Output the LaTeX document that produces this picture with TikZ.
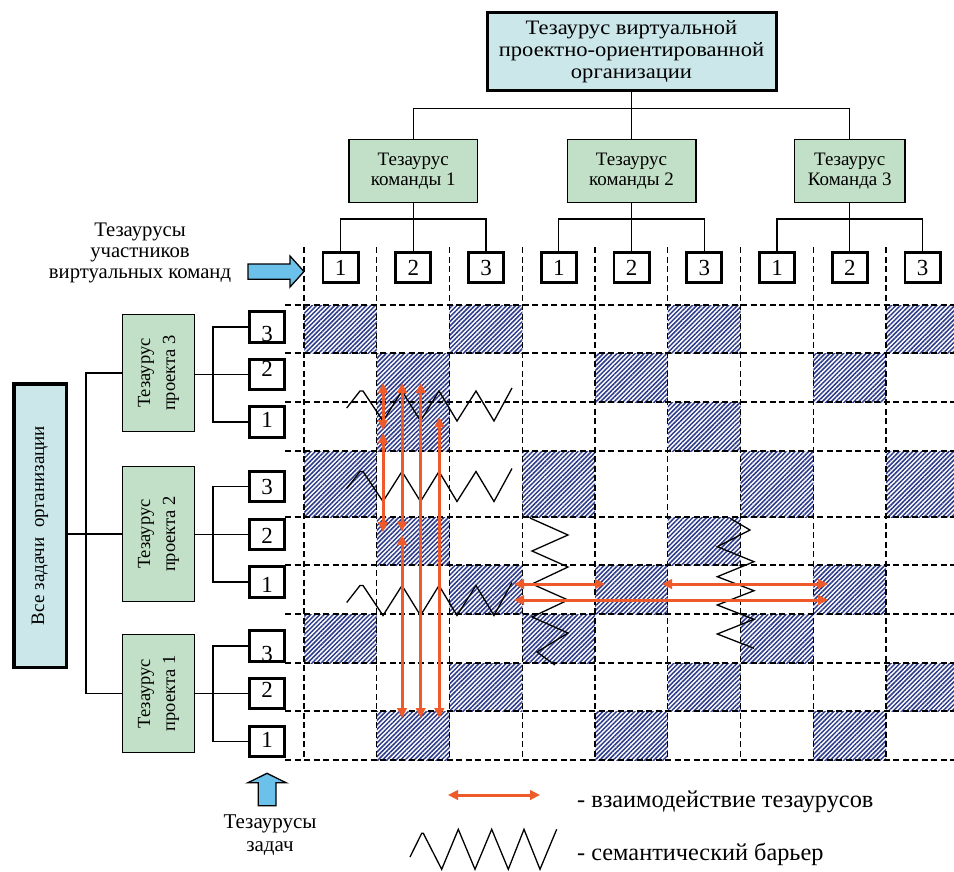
\documentclass[tikz,border=0pt]{standalone}
\usepackage{fontspec}
\setmainfont{Liberation Serif}
\newfontfamily\widefont{Liberation Serif}[FakeStretch=1.1]
\usetikzlibrary{arrows.meta,patterns.meta}
\definecolor{cyanfill}{HTML}{CBE7EA}
\definecolor{greenfill}{HTML}{C2E0C7}
\definecolor{bluearrow}{HTML}{6CC1EB}
\definecolor{hatchblue}{HTML}{2C3A8A}
\definecolor{redarr}{HTML}{EF5A2B}
\newcommand{\shiftdigit}[2]{\raisebox{#1}[\height][\depth]{#2}}
\begin{document}
\begin{tikzpicture}[x=1pt,y=-1pt,
  conn/.style={line width=1.2pt},
  topbox/.style={draw,line width=3pt,fill=cyanfill,inner sep=0pt,align=center,
    minimum width=289pt,minimum height=78pt,font=\widefont\fontsize{20.5}{21.7}\selectfont},
  teambox/.style={draw,line width=1.3pt,fill=greenfill,inner sep=0pt,align=center,
    minimum height=62.7pt,font=\fontsize{19}{19.5}\selectfont},
  membox/.style={draw,line width=2.8pt,fill=white,inner sep=0pt,
    minimum width=35.2pt,minimum height=30.4pt,font=\fontsize{23}{23}\selectfont},
  projbox/.style={draw,line width=1.3pt,fill=greenfill,inner sep=0pt,align=center,
    rotate=90,minimum height=71.7pt,font=\fontsize{18.5}{25}\selectfont},
  allbox/.style={draw,line width=3.5pt,fill=cyanfill,inner sep=0pt,align=center,
    rotate=90,minimum height=52.5pt,minimum width=283.5pt,font=\fontsize{19}{19}\selectfont},
  txt/.style={inner sep=0pt,align=center},
  cell/.style={pattern={Lines[angle=45,distance=3.2pt,line width=1.5pt]},pattern color=hatchblue},
  gridline/.style={dash pattern=on 6pt off 3.5pt,line width=1.3pt},
  zig/.style={line width=1.3pt,line join=miter},
  redarrow/.style={draw=redarr,line width=3pt,{Triangle[width=9.5pt,length=10pt]}-{Triangle[width=9.5pt,length=10pt]}},
  blockarrow/.style={draw,line width=1.3pt,fill=bluearrow,line join=miter},
  hzigzag/.pic={\draw[zig] (0,17) -- (13.3,0) -- (16.3,0) -- (36.3,30) -- (55.3,0) -- (73.8,30)
     -- (92.3,0) -- (110.3,30) -- (129.3,0) -- (147.3,30) -- (165.3,-3);}
]
\useasboundingbox (0,0) rectangle (954,871);

% ---------- hatched cells ----------
\def\rowlist{{305,353,402,451,517,565,614,663,711,760}}
\foreach \c/\r in {1/1,3/1,6/1,9/1, 2/2,5/2,8/2, 2/3,6/3, 1/4,4/4,7/4,9/4,
                   2/5,6/5, 3/6,5/6,8/6, 1/7,4/7,7/7, 3/8,6/8,9/8, 2/9,5/9,8/9} {
  \pgfmathsetmacro\xa{304+72.75*(\c-1)}
  \pgfmathsetmacro\xb{min(304+72.75*\c,954)}
  \pgfmathsetmacro\ya{\rowlist[\r-1]}
  \pgfmathsetmacro\yb{\rowlist[\r]}
  \fill[cell] (\xa,\ya) rectangle (\xb,\yb);
}

% ---------- dashed grid ----------
\foreach \i in {0,...,8} \draw[gridline] ({304+72.75*\i},247) -- ({304+72.75*\i},760);
\foreach \y in {305,353,402,451,517,565,614,663,711,760} \draw[gridline] (285,\y) -- (954,\y);

% ---------- top hierarchy ----------
\foreach \i/\d in {1/1,2/2,3/3,4/1,5/2,6/3,7/1,8/2,9/3}
  \node[membox] (m\i) at ({340.5+72.75*(\i-1)},267.5) {\d};

\node[topbox] (top) at (m5 |- 0,51.5) {Тезаурус виртуальной\\проектно-ориентированной\\организации};
\node[teambox,minimum width=128.7pt] (t1) at (m2 |- 0,171) {Тезаурус\\команды 1};
\node[teambox,minimum width=128.7pt] (t2) at (m5 |- 0,171) {Тезаурус\\команды 2};
\node[teambox,minimum width=110.7pt] (t3) at (m8 |- 0,171) {Тезаурус\\Команда 3};

\path (top.south) ++(0,16.5) coordinate (tb);
\draw[conn] (top.south) -- (t2.north);
\draw[conn] (t1.north) |- (tb) -| (t3.north);
\foreach \t/\a/\b/\c in {t1/m1/m2/m3,t2/m4/m5/m6,t3/m7/m8/m9} {
  \path (\t.south) ++(0,16) coordinate (bus\t);
  \draw[conn] (\t.south) -- (\b.north);
  \draw[conn] (\a.north) |- (bus\t) -| (\c.north);
}

% ---------- left hierarchy ----------
\node[allbox] (all) at (40,525.5) {Все задачи\ \ организации};
\node[projbox,minimum width=116.7pt] (p3) at (158.5,373) {Тезаурус\\проекта 3};
\node[projbox,minimum width=134.7pt] (p2) at (158.5,534) {Тезаурус\\проекта 2};
\node[projbox,minimum width=117.7pt] (p1) at (158.5,693.5) {Тезаурус\\проекта 1};

\node[membox] (l3a) at (267,327)   {\shiftdigit{-7pt}{3}};
\node[membox] (l3b) at (267,374.5) {\shiftdigit{6pt}{2}};
\node[membox] (l3c) at (267,422)   {\shiftdigit{2pt}{1}};
\node[membox] (l2a) at (267,486.5) {3};
\node[membox] (l2b) at (267,534.5) {\shiftdigit{-1.5pt}{2}};
\node[membox] (l2c) at (267,582)   {\shiftdigit{-3pt}{1}};
\node[membox] (l1a) at (267,646)   {\shiftdigit{-7.5pt}{3}};
\node[membox] (l1b) at (267,693.5) {\shiftdigit{4pt}{2}};
\node[membox] (l1c) at (267,741.5) {\shiftdigit{1.5pt}{1}};

\foreach \p/\a/\b/\c in {p3/l3a/l3b/l3c,p2/l2a/l2b/l2c,p1/l1a/l1b/l1c} {
  \draw[conn] (\p.south |- \b.west) -- (\b.west);
  \draw[conn] (\a.west) -- ++(-35,0) |- (\c.west);
}
\draw[conn] (all.south |- p2.north) -- (p2.north);
\draw[conn] (p3.north) -- ++(-36,0) |- (p1.north);

% ---------- labels and block arrows ----------
\node[txt,font=\fontsize{20.7}{21.2}\selectfont] (lab1) at (140,253)
  {Тезаурусы\\участников\\виртуальных команд};
\draw[blockarrow] (248,264) -- (290,264) -- (290,256) -- (304,271.5) -- (290,287)
  -- (290,279.3) -- (248,279.3) -- cycle;
\draw[blockarrow] (258.3,805.7) -- (258.3,782.7) -- (248,782.7) -- (267,773.3)
  -- (286,782.7) -- (276,782.7) -- (276,805.7) -- cycle;
\node[txt,font=\fontsize{21}{23}\selectfont] (lab2) at (270,835.5) {Тезаурусы\\задач};

% ---------- semantic barriers ----------
\pic (zz1) at (346.7,391) {hzigzag};
\pic (zz2) at (346.7,471.5) {hzigzag};
\pic (zz3) at (346.7,585.5) {hzigzag};
\draw[zig] (530,518) -- (568,535) -- (532,551) -- (568,567) -- (532,584) -- (568,600)
  -- (532,617) -- (568,633) -- (537,652) -- (555,665);
\draw[zig] (730,518.3) -- (750,530) -- (717.3,546.7) -- (754,561.7) -- (717.3,576.7)
  -- (754,590.7) -- (717.3,605) -- (754,619.3) -- (717.3,634) -- (754,648.3);

% ---------- interactions ----------
\draw[redarrow] (383,383) -- (383,430);
\draw[redarrow] (383,433) -- (383,532);
\draw[redarrow] (402,383) -- (402,531.5);
\draw[redarrow] (402,535) -- (402,718);
\draw[redarrow] (420.7,383) -- (420.7,718);
\draw[redarrow] (439.3,417) -- (439.3,718);
\draw[redarrow] (514,584) -- (605,584);
\draw[redarrow] (662,584) -- (828,584);
\draw[redarrow] (514,600) -- (828,600);

% ---------- legend ----------
\draw[redarrow] (448,795) -- (540,795);
\node[txt,anchor=base west,font=\fontsize{24.3}{26}\selectfont] (leg1) at (577,807)
  {- взаимодействие тезаурусов};
\draw[zig] (410,857) -- (421.7,833.3) -- (423.3,833.3) -- (441.7,869.3) -- (458.3,829.3)
  -- (475,869.3) -- (491.7,829.3) -- (508.3,869.3) -- (524,829.3) -- (540,869.3) -- (556.7,829.3);
\node[txt,anchor=base west,font=\fontsize{24.3}{26}\selectfont] (leg2) at (577,860)
  {- семантический барьер};
\end{tikzpicture}
\end{document}
